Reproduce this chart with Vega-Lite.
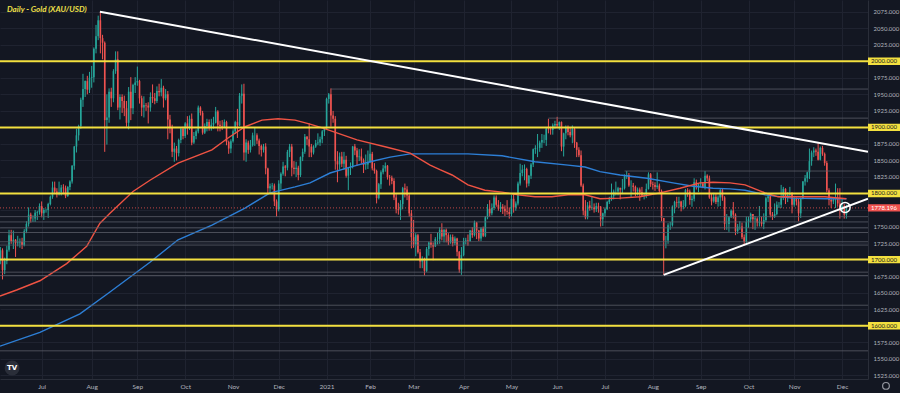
{
"$schema":"https://vega.github.io/schema/vega-lite/v6.json",
"width":868,"height":379,
"autosize":{"type":"none"},
"padding":{"left":0,"top":0,"right":32,"bottom":14},
"background":"#131722",
"title":{"text":"Daily - Gold (XAU/USD)","anchor":"start","frame":"group","orient":"top","offset":-14,"dy":8,"baseline":"bottom","dx":7,"font":"Liberation Sans Narrow, Lato","fontStyle":"italic","fontWeight":"bold","fontSize":8,"color":"#efe04a"},
"config":{"view":{"stroke":null},"axis":{"labelOverlap":false,"labelSeparation":0,"labelBound":false,"title":null},"axisY":{"labelOverlap":false,"orient":"right"}},
"datasets":{
"candles":[
{"i":3,"o":1699,"h":1719,"l":1693,"c":1714},{"i":4,"o":1714,"h":1717,"l":1670,"c":1684},{"i":5,"o":1684,"h":1703,"l":1678,"c":1698},{"i":6,"o":1698,"h":1721,"l":1693,"c":1715},{"i":7,"o":1715,"h":1745,"l":1712,"c":1737},{"i":8,"o":1737,"h":1745,"l":1724,"c":1728},{"i":9,"o":1728,"h":1744,"l":1716,"c":1730},{"i":10,"o":1730,"h":1731,"l":1704,"c":1725},{"i":11,"o":1725,"h":1736,"l":1720,"c":1726},{"i":12,"o":1726,"h":1732,"l":1718,"c":1727},{"i":13,"o":1727,"h":1733,"l":1716,"c":1722},{"i":14,"o":1722,"h":1746,"l":1720,"c":1743},{"i":15,"o":1743,"h":1758,"l":1740,"c":1754},{"i":16,"o":1754,"h":1779,"l":1750,"c":1768},{"i":17,"o":1768,"h":1771,"l":1756,"c":1762},{"i":18,"o":1762,"h":1767,"l":1757,"c":1762},{"i":19,"o":1762,"h":1775,"l":1757,"c":1771},{"i":20,"o":1771,"h":1774,"l":1760,"c":1772},{"i":21,"o":1772,"h":1785,"l":1768,"c":1781},
{"i":22,"o":1781,"h":1788,"l":1764,"c":1770},{"i":23,"o":1770,"h":1778,"l":1760,"c":1775},{"i":24,"o":1775,"h":1777,"l":1771,"c":1775},{"i":25,"o":1775,"h":1786,"l":1763,"c":1784},{"i":26,"o":1784,"h":1797,"l":1782,"c":1795},{"i":27,"o":1795,"h":1818,"l":1792,"c":1809},{"i":28,"o":1809,"h":1818,"l":1799,"c":1803},{"i":29,"o":1803,"h":1808,"l":1794,"c":1799},{"i":30,"o":1799,"h":1818,"l":1797,"c":1802},{"i":31,"o":1802,"h":1813,"l":1797,"c":1809},{"i":32,"o":1809,"h":1814,"l":1799,"c":1808},{"i":33,"o":1808,"h":1812,"l":1793,"c":1796},{"i":34,"o":1796,"h":1811,"l":1795,"c":1810},{"i":35,"o":1810,"h":1820,"l":1805,"c":1818},{"i":36,"o":1818,"h":1843,"l":1815,"c":1842},{"i":37,"o":1842,"h":1872,"l":1836,"c":1871},{"i":38,"o":1871,"h":1898,"l":1862,"c":1888},{"i":39,"o":1888,"h":1904,"l":1880,"c":1902},{"i":40,"o":1902,"h":1945,"l":1898,"c":1942},{"i":41,"o":1942,"h":1981,"l":1931,"c":1958},{"i":42,"o":1958,"h":1971,"l":1946,"c":1970},{"i":43,"o":1970,"h":1978,"l":1950,"c":1957},{"i":44,"o":1957,"h":1984,"l":1952,"c":1975},
{"i":45,"o":1975,"h":1993,"l":1960,"c":1976},{"i":46,"o":1976,"h":2021,"l":1968,"c":2019},{"i":47,"o":2019,"h":2055,"l":2012,"c":2038},{"i":48,"o":2038,"h":2069,"l":2032,"c":2062},{"i":49,"o":2062,"h":2075,"l":2012,"c":2035},{"i":50,"o":2035,"h":2040,"l":2003,"c":2028},{"i":51,"o":2028,"h":2030,"l":1863,"c":1911},{"i":52,"o":1911,"h":1950,"l":1874,"c":1915},{"i":53,"o":1915,"h":1959,"l":1907,"c":1954},{"i":54,"o":1954,"h":1960,"l":1931,"c":1944},{"i":55,"o":1944,"h":1988,"l":1938,"c":1985},{"i":56,"o":1985,"h":2015,"l":1981,"c":2003},{"i":57,"o":2003,"h":2015,"l":1926,"c":1930},{"i":58,"o":1930,"h":1950,"l":1912,"c":1946},{"i":59,"o":1946,"h":1950,"l":1922,"c":1940},{"i":60,"o":1940,"h":1948,"l":1917,"c":1929},{"i":61,"o":1929,"h":1940,"l":1901,"c":1907},{"i":62,"o":1907,"h":1961,"l":1897,"c":1954},{"i":63,"o":1954,"h":1976,"l":1911,"c":1929},{"i":64,"o":1929,"h":1966,"l":1920,"c":1964},{"i":65,"o":1964,"h":1976,"l":1952,"c":1968},
{"i":66,"o":1968,"h":1992,"l":1963,"c":1970},{"i":67,"o":1970,"h":1972,"l":1936,"c":1944},{"i":68,"o":1944,"h":1948,"l":1917,"c":1930},{"i":69,"o":1930,"h":1947,"l":1915,"c":1934},{"i":70,"o":1934,"h":1937,"l":1925,"c":1933},{"i":71,"o":1933,"h":1938,"l":1906,"c":1930},{"i":72,"o":1930,"h":1953,"l":1924,"c":1946},{"i":73,"o":1946,"h":1965,"l":1937,"c":1944},{"i":74,"o":1944,"h":1952,"l":1935,"c":1940},{"i":75,"o":1940,"h":1962,"l":1937,"c":1955},{"i":76,"o":1955,"h":1966,"l":1947,"c":1953},{"i":77,"o":1953,"h":1973,"l":1947,"c":1960},{"i":78,"o":1960,"h":1963,"l":1930,"c":1944},{"i":79,"o":1944,"h":1958,"l":1941,"c":1950},{"i":80,"o":1950,"h":1955,"l":1882,"c":1912},{"i":81,"o":1912,"h":1919,"l":1891,"c":1900},{"i":82,"o":1900,"h":1904,"l":1855,"c":1863},{"i":83,"o":1863,"h":1877,"l":1848,"c":1868},{"i":84,"o":1868,"h":1872,"l":1850,"c":1861},{"i":85,"o":1861,"h":1883,"l":1856,"c":1881},{"i":86,"o":1881,"h":1900,"l":1876,"c":1898},{"i":87,"o":1898,"h":1901,"l":1882,"c":1887},
{"i":88,"o":1887,"h":1908,"l":1884,"c":1906},{"i":89,"o":1906,"h":1917,"l":1889,"c":1900},{"i":90,"o":1900,"h":1918,"l":1896,"c":1913},{"i":91,"o":1913,"h":1921,"l":1873,"c":1877},{"i":92,"o":1877,"h":1893,"l":1875,"c":1887},{"i":93,"o":1887,"h":1897,"l":1882,"c":1894},{"i":94,"o":1894,"h":1933,"l":1891,"c":1930},{"i":95,"o":1930,"h":1932,"l":1918,"c":1922},{"i":96,"o":1922,"h":1925,"l":1889,"c":1892},{"i":97,"o":1892,"h":1906,"l":1890,"c":1902},{"i":98,"o":1902,"h":1913,"l":1894,"c":1908},{"i":99,"o":1908,"h":1912,"l":1895,"c":1899},{"i":100,"o":1899,"h":1913,"l":1895,"c":1904},{"i":101,"o":1904,"h":1916,"l":1898,"c":1907},{"i":102,"o":1907,"h":1931,"l":1906,"c":1924},{"i":103,"o":1924,"h":1926,"l":1894,"c":1904},{"i":104,"o":1904,"h":1910,"l":1894,"c":1902},{"i":105,"o":1902,"h":1911,"l":1896,"c":1901},{"i":106,"o":1901,"h":1912,"l":1899,"c":1908},{"i":107,"o":1908,"h":1910,"l":1873,"c":1878},{"i":108,"o":1878,"h":1880,"l":1860,"c":1868},{"i":109,"o":1868,"h":1882,"l":1861,"c":1879},
{"i":110,"o":1879,"h":1897,"l":1877,"c":1894},{"i":111,"o":1894,"h":1910,"l":1890,"c":1908},{"i":112,"o":1908,"h":1928,"l":1884,"c":1903},{"i":113,"o":1903,"h":1952,"l":1902,"c":1948},{"i":114,"o":1948,"h":1965,"l":1936,"c":1951},{"i":115,"o":1951,"h":1966,"l":1850,"c":1862},{"i":116,"o":1862,"h":1882,"l":1848,"c":1877},{"i":117,"o":1877,"h":1880,"l":1860,"c":1866},{"i":118,"o":1866,"h":1881,"l":1862,"c":1873},{"i":119,"o":1873,"h":1892,"l":1871,"c":1888},{"i":120,"o":1888,"h":1900,"l":1872,"c":1888},{"i":121,"o":1888,"h":1891,"l":1875,"c":1880},{"i":122,"o":1880,"h":1883,"l":1859,"c":1872},{"i":123,"o":1872,"h":1874,"l":1856,"c":1866},{"i":124,"o":1866,"h":1875,"l":1862,"c":1871},{"i":125,"o":1871,"h":1876,"l":1829,"c":1838},{"i":126,"o":1838,"h":1839,"l":1800,"c":1808},{"i":127,"o":1808,"h":1815,"l":1801,"c":1811},{"i":128,"o":1811,"h":1816,"l":1806,"c":1812},{"i":129,"o":1812,"h":1815,"l":1781,"c":1788},{"i":130,"o":1788,"h":1791,"l":1765,"c":1776},
{"i":131,"o":1776,"h":1820,"l":1773,"c":1815},{"i":132,"o":1815,"h":1832,"l":1806,"c":1830},{"i":133,"o":1830,"h":1848,"l":1827,"c":1841},{"i":134,"o":1841,"h":1843,"l":1826,"c":1839},{"i":135,"o":1839,"h":1866,"l":1835,"c":1863},{"i":136,"o":1863,"h":1875,"l":1855,"c":1871},{"i":137,"o":1871,"h":1875,"l":1826,"c":1839},{"i":138,"o":1839,"h":1849,"l":1829,"c":1837},{"i":139,"o":1837,"h":1848,"l":1825,"c":1839},{"i":140,"o":1839,"h":1842,"l":1820,"c":1828},{"i":141,"o":1828,"h":1856,"l":1825,"c":1855},{"i":142,"o":1855,"h":1868,"l":1849,"c":1863},{"i":143,"o":1863,"h":1890,"l":1860,"c":1886},{"i":144,"o":1886,"h":1887,"l":1873,"c":1882},{"i":145,"o":1882,"h":1906,"l":1855,"c":1871},{"i":146,"o":1871,"h":1875,"l":1855,"c":1862},{"i":147,"o":1862,"h":1873,"l":1859,"c":1871},{"i":148,"o":1871,"h":1881,"l":1869,"c":1876},{"i":149,"o":1876,"h":1891,"l":1873,"c":1877},{"i":150,"o":1877,"h":1886,"l":1872,"c":1882},{"i":151,"o":1882,"h":1896,"l":1876,"c":1894},{"i":152,"o":1894,"h":1900,"l":1887,"c":1898},
{"i":153,"o":1898,"h":1945,"l":1897,"c":1943},{"i":154,"o":1943,"h":1952,"l":1936,"c":1950},{"i":155,"o":1950,"h":1959,"l":1901,"c":1918},{"i":156,"o":1918,"h":1925,"l":1907,"c":1913},{"i":157,"o":1913,"h":1917,"l":1836,"c":1849},{"i":158,"o":1849,"h":1864,"l":1817,"c":1844},{"i":159,"o":1844,"h":1862,"l":1836,"c":1856},{"i":160,"o":1856,"h":1863,"l":1840,"c":1845},{"i":161,"o":1845,"h":1863,"l":1836,"c":1851},{"i":162,"o":1851,"h":1857,"l":1824,"c":1827},{"i":163,"o":1827,"h":1840,"l":1805,"c":1839},{"i":164,"o":1839,"h":1847,"l":1828,"c":1840},{"i":165,"o":1840,"h":1872,"l":1838,"c":1871},{"i":166,"o":1871,"h":1875,"l":1858,"c":1865},{"i":167,"o":1865,"h":1869,"l":1842,"c":1855},{"i":168,"o":1855,"h":1867,"l":1849,"c":1856},{"i":169,"o":1856,"h":1868,"l":1845,"c":1850},{"i":170,"o":1850,"h":1853,"l":1831,"c":1843},{"i":171,"o":1843,"h":1859,"l":1836,"c":1844},{"i":172,"o":1844,"h":1865,"l":1837,"c":1847},
{"i":173,"o":1847,"h":1875,"l":1847,"c":1860},{"i":174,"o":1860,"h":1863,"l":1835,"c":1838},{"i":175,"o":1838,"h":1846,"l":1830,"c":1834},{"i":176,"o":1834,"h":1836,"l":1785,"c":1793},{"i":177,"o":1793,"h":1816,"l":1791,"c":1814},{"i":178,"o":1814,"h":1835,"l":1807,"c":1832},{"i":179,"o":1832,"h":1843,"l":1829,"c":1838},{"i":180,"o":1838,"h":1847,"l":1833,"c":1842},{"i":181,"o":1842,"h":1843,"l":1821,"c":1825},{"i":182,"o":1825,"h":1828,"l":1812,"c":1824},{"i":183,"o":1824,"h":1827,"l":1814,"c":1819},{"i":184,"o":1819,"h":1823,"l":1790,"c":1794},{"i":185,"o":1794,"h":1799,"l":1770,"c":1776},{"i":186,"o":1776,"h":1786,"l":1768,"c":1775},{"i":187,"o":1775,"h":1790,"l":1760,"c":1784},{"i":188,"o":1784,"h":1810,"l":1776,"c":1808},{"i":189,"o":1808,"h":1815,"l":1794,"c":1806},{"i":190,"o":1806,"h":1811,"l":1790,"c":1797},{"i":191,"o":1797,"h":1799,"l":1765,"c":1770},{"i":192,"o":1770,"h":1775,"l":1717,"c":1734},
{"i":193,"o":1734,"h":1760,"l":1718,"c":1723},{"i":194,"o":1723,"h":1740,"l":1705,"c":1737},{"i":195,"o":1737,"h":1739,"l":1709,"c":1711},{"i":196,"o":1711,"h":1716,"l":1687,"c":1697},{"i":197,"o":1697,"h":1705,"l":1687,"c":1700},{"i":198,"o":1700,"h":1703,"l":1676,"c":1683},{"i":199,"o":1683,"h":1719,"l":1681,"c":1716},{"i":200,"o":1716,"h":1727,"l":1706,"c":1726},{"i":201,"o":1726,"h":1739,"l":1718,"c":1722},{"i":202,"o":1722,"h":1726,"l":1699,"c":1720},{"i":203,"o":1720,"h":1734,"l":1719,"c":1731},{"i":204,"o":1731,"h":1741,"l":1723,"c":1731},{"i":205,"o":1731,"h":1749,"l":1724,"c":1745},{"i":206,"o":1745,"h":1755,"l":1729,"c":1735},{"i":207,"o":1735,"h":1746,"l":1726,"c":1745},{"i":208,"o":1745,"h":1747,"l":1726,"c":1737},{"i":209,"o":1737,"h":1740,"l":1722,"c":1726},{"i":210,"o":1726,"h":1738,"l":1724,"c":1734},{"i":211,"o":1734,"h":1738,"l":1720,"c":1725},{"i":212,"o":1725,"h":1735,"l":1722,"c":1732},{"i":213,"o":1732,"h":1733,"l":1705,"c":1712},{"i":214,"o":1712,"h":1713,"l":1680,"c":1685},{"i":215,"o":1685,"h":1719,"l":1677,"c":1707},
{"i":216,"o":1707,"h":1733,"l":1705,"c":1728},{"i":217,"o":1728,"h":1733,"l":1723,"c":1729},{"i":218,"o":1729,"h":1738,"l":1721,"c":1728},{"i":219,"o":1728,"h":1745,"l":1727,"c":1744},{"i":220,"o":1744,"h":1749,"l":1733,"c":1737},{"i":221,"o":1737,"h":1759,"l":1735,"c":1756},{"i":222,"o":1756,"h":1757,"l":1731,"c":1744},{"i":223,"o":1744,"h":1745,"l":1728,"c":1732},{"i":224,"o":1732,"h":1749,"l":1728,"c":1747},{"i":225,"o":1747,"h":1750,"l":1734,"c":1736},{"i":226,"o":1736,"h":1766,"l":1734,"c":1764},{"i":227,"o":1764,"h":1784,"l":1761,"c":1777},{"i":228,"o":1777,"h":1790,"l":1765,"c":1770},{"i":229,"o":1770,"h":1785,"l":1767,"c":1778},{"i":230,"o":1778,"h":1797,"l":1775,"c":1794},{"i":231,"o":1794,"h":1797,"l":1780,"c":1783},{"i":232,"o":1783,"h":1790,"l":1774,"c":1777},{"i":233,"o":1777,"h":1787,"l":1772,"c":1780},{"i":234,"o":1780,"h":1784,"l":1769,"c":1777},{"i":235,"o":1777,"h":1782,"l":1766,"c":1773},{"i":236,"o":1773,"h":1790,"l":1768,"c":1772},{"i":237,"o":1772,"h":1779,"l":1762,"c":1769},
{"i":238,"o":1769,"h":1798,"l":1765,"c":1792},{"i":239,"o":1792,"h":1799,"l":1771,"c":1779},{"i":240,"o":1779,"h":1788,"l":1774,"c":1785},{"i":241,"o":1785,"h":1818,"l":1782,"c":1815},{"i":242,"o":1815,"h":1845,"l":1812,"c":1831},{"i":243,"o":1831,"h":1843,"l":1826,"c":1836},{"i":244,"o":1836,"h":1844,"l":1820,"c":1837},{"i":245,"o":1837,"h":1839,"l":1809,"c":1815},{"i":246,"o":1815,"h":1828,"l":1811,"c":1827},{"i":247,"o":1827,"h":1846,"l":1822,"c":1844},{"i":248,"o":1844,"h":1868,"l":1840,"c":1867},{"i":249,"o":1867,"h":1873,"l":1860,"c":1869},{"i":250,"o":1869,"h":1890,"l":1855,"c":1869},{"i":251,"o":1869,"h":1880,"l":1863,"c":1877},{"i":252,"o":1877,"h":1890,"l":1869,"c":1881},{"i":253,"o":1881,"h":1889,"l":1876,"c":1881},{"i":254,"o":1881,"h":1900,"l":1872,"c":1898},{"i":255,"o":1898,"h":1913,"l":1891,"c":1897},{"i":256,"o":1897,"h":1901,"l":1889,"c":1896},{"i":257,"o":1896,"h":1906,"l":1889,"c":1903},{"i":258,"o":1903,"h":1910,"l":1898,"c":1905},
{"i":259,"o":1905,"h":1916,"l":1899,"c":1903},{"i":260,"o":1903,"h":1909,"l":1896,"c":1908},{"i":261,"o":1908,"h":1909,"l":1864,"c":1871},{"i":262,"o":1871,"h":1892,"l":1856,"c":1891},{"i":263,"o":1891,"h":1903,"l":1882,"c":1899},{"i":264,"o":1899,"h":1903,"l":1888,"c":1893},{"i":265,"o":1893,"h":1900,"l":1885,"c":1888},{"i":266,"o":1888,"h":1903,"l":1876,"c":1898},{"i":267,"o":1898,"h":1900,"l":1869,"c":1877},{"i":268,"o":1877,"h":1878,"l":1855,"c":1866},{"i":269,"o":1866,"h":1870,"l":1855,"c":1858},{"i":270,"o":1858,"h":1865,"l":1810,"c":1812},{"i":271,"o":1812,"h":1815,"l":1767,"c":1774},{"i":272,"o":1774,"h":1790,"l":1761,"c":1764},{"i":273,"o":1764,"h":1787,"l":1761,"c":1782},{"i":274,"o":1782,"h":1789,"l":1774,"c":1778},{"i":275,"o":1778,"h":1795,"l":1775,"c":1779},{"i":276,"o":1779,"h":1785,"l":1771,"c":1776},{"i":277,"o":1776,"h":1786,"l":1772,"c":1781},{"i":278,"o":1781,"h":1786,"l":1771,"c":1780},{"i":279,"o":1780,"h":1781,"l":1750,"c":1761},{"i":280,"o":1761,"h":1771,"l":1751,"c":1770},
{"i":281,"o":1770,"h":1779,"l":1765,"c":1776},{"i":282,"o":1776,"h":1789,"l":1775,"c":1787},{"i":283,"o":1787,"h":1795,"l":1784,"c":1791},{"i":284,"o":1791,"h":1815,"l":1789,"c":1796},{"i":285,"o":1796,"h":1806,"l":1791,"c":1803},{"i":286,"o":1803,"h":1818,"l":1797,"c":1803},{"i":287,"o":1803,"h":1810,"l":1797,"c":1808},{"i":288,"o":1808,"h":1809,"l":1791,"c":1806},{"i":289,"o":1806,"h":1822,"l":1799,"c":1808},{"i":290,"o":1808,"h":1829,"l":1806,"c":1826},{"i":291,"o":1826,"h":1834,"l":1822,"c":1828},{"i":292,"o":1828,"h":1831,"l":1810,"c":1812},{"i":293,"o":1812,"h":1820,"l":1794,"c":1812},{"i":294,"o":1812,"h":1816,"l":1803,"c":1810},{"i":295,"o":1810,"h":1812,"l":1796,"c":1803},{"i":296,"o":1803,"h":1809,"l":1797,"c":1806},{"i":297,"o":1806,"h":1809,"l":1789,"c":1802},{"i":298,"o":1802,"h":1810,"l":1795,"c":1797},{"i":299,"o":1797,"h":1800,"l":1791,"c":1798},{"i":300,"o":1798,"h":1815,"l":1793,"c":1807},{"i":301,"o":1807,"h":1832,"l":1806,"c":1829},{"i":302,"o":1829,"h":1831,"l":1810,"c":1814},
{"i":303,"o":1814,"h":1818,"l":1806,"c":1813},{"i":304,"o":1813,"h":1817,"l":1804,"c":1810},{"i":305,"o":1810,"h":1832,"l":1807,"c":1812},{"i":306,"o":1812,"h":1815,"l":1801,"c":1804},{"i":307,"o":1804,"h":1806,"l":1758,"c":1763},{"i":308,"o":1763,"h":1763,"l":1677,"c":1729},{"i":309,"o":1729,"h":1736,"l":1717,"c":1729},{"i":310,"o":1729,"h":1755,"l":1724,"c":1752},{"i":311,"o":1752,"h":1757,"l":1745,"c":1752},{"i":312,"o":1752,"h":1782,"l":1750,"c":1780},{"i":313,"o":1780,"h":1789,"l":1770,"c":1787},{"i":314,"o":1787,"h":1795,"l":1779,"c":1786},{"i":315,"o":1786,"h":1795,"l":1778,"c":1788},{"i":316,"o":1788,"h":1789,"l":1773,"c":1780},{"i":317,"o":1780,"h":1790,"l":1776,"c":1781},{"i":318,"o":1781,"h":1807,"l":1779,"c":1805},{"i":319,"o":1805,"h":1808,"l":1795,"c":1803},{"i":320,"o":1803,"h":1806,"l":1783,"c":1790},{"i":321,"o":1790,"h":1797,"l":1780,"c":1792},{"i":322,"o":1792,"h":1823,"l":1788,"c":1817},{"i":323,"o":1817,"h":1821,"l":1806,"c":1810},{"i":324,"o":1810,"h":1815,"l":1802,"c":1814},
{"i":325,"o":1814,"h":1823,"l":1810,"c":1815},{"i":326,"o":1815,"h":1817,"l":1808,"c":1810},{"i":327,"o":1810,"h":1834,"l":1806,"c":1827},{"i":328,"o":1827,"h":1829,"l":1819,"c":1823},{"i":329,"o":1823,"h":1827,"l":1792,"c":1794},{"i":330,"o":1794,"h":1800,"l":1782,"c":1788},{"i":331,"o":1788,"h":1801,"l":1786,"c":1795},{"i":332,"o":1795,"h":1799,"l":1784,"c":1787},{"i":333,"o":1787,"h":1797,"l":1780,"c":1794},{"i":334,"o":1794,"h":1808,"l":1781,"c":1805},{"i":335,"o":1805,"h":1807,"l":1789,"c":1794},{"i":336,"o":1794,"h":1796,"l":1745,"c":1754},{"i":337,"o":1754,"h":1769,"l":1745,"c":1754},{"i":338,"o":1754,"h":1766,"l":1742,"c":1764},{"i":339,"o":1764,"h":1776,"l":1763,"c":1774},{"i":340,"o":1774,"h":1787,"l":1762,"c":1768},{"i":341,"o":1768,"h":1770,"l":1737,"c":1743},{"i":342,"o":1743,"h":1754,"l":1739,"c":1750},{"i":343,"o":1750,"h":1758,"l":1745,"c":1750},{"i":344,"o":1750,"h":1756,"l":1731,"c":1734},{"i":345,"o":1734,"h":1738,"l":1721,"c":1727},{"i":346,"o":1727,"h":1765,"l":1722,"c":1757},
{"i":347,"o":1757,"h":1765,"l":1748,"c":1761},{"i":348,"o":1761,"h":1771,"l":1756,"c":1769},{"i":349,"o":1769,"h":1769,"l":1746,"c":1761},{"i":350,"o":1761,"h":1766,"l":1745,"c":1762},{"i":351,"o":1762,"h":1764,"l":1750,"c":1756},{"i":352,"o":1756,"h":1781,"l":1750,"c":1757},{"i":353,"o":1757,"h":1765,"l":1750,"c":1754},{"i":354,"o":1754,"h":1770,"l":1746,"c":1760},{"i":355,"o":1760,"h":1795,"l":1757,"c":1793},{"i":356,"o":1793,"h":1800,"l":1787,"c":1796},{"i":357,"o":1796,"h":1797,"l":1764,"c":1768},{"i":358,"o":1768,"h":1772,"l":1760,"c":1765},{"i":359,"o":1765,"h":1785,"l":1763,"c":1769},{"i":360,"o":1769,"h":1788,"l":1767,"c":1783},{"i":361,"o":1783,"h":1787,"l":1778,"c":1783},{"i":362,"o":1783,"h":1813,"l":1778,"c":1793},{"i":363,"o":1793,"h":1810,"l":1790,"c":1807},{"i":364,"o":1807,"h":1808,"l":1784,"c":1793},{"i":365,"o":1793,"h":1802,"l":1787,"c":1798},{"i":366,"o":1798,"h":1810,"l":1795,"c":1800},{"i":367,"o":1800,"h":1802,"l":1770,"c":1783},
{"i":368,"o":1783,"h":1795,"l":1780,"c":1793},{"i":369,"o":1793,"h":1794,"l":1782,"c":1788},{"i":370,"o":1788,"h":1792,"l":1758,"c":1770},{"i":371,"o":1770,"h":1794,"l":1763,"c":1792},{"i":372,"o":1792,"h":1819,"l":1791,"c":1818},{"i":373,"o":1818,"h":1828,"l":1812,"c":1823},{"i":374,"o":1823,"h":1833,"l":1817,"c":1832},{"i":375,"o":1832,"h":1868,"l":1822,"c":1849},{"i":376,"o":1849,"h":1865,"l":1842,"c":1862},{"i":377,"o":1862,"h":1870,"l":1855,"c":1865},{"i":378,"o":1865,"h":1868,"l":1857,"c":1863},{"i":379,"o":1863,"h":1877,"l":1850,"c":1851},{"i":380,"o":1851,"h":1871,"l":1850,"c":1869},{"i":381,"o":1869,"h":1872,"l":1857,"c":1860},{"i":382,"o":1860,"h":1862,"l":1842,"c":1846},{"i":383,"o":1846,"h":1849,"l":1802,"c":1805},{"i":384,"o":1805,"h":1808,"l":1782,"c":1790},{"i":385,"o":1790,"h":1793,"l":1778,"c":1788},{"i":386,"o":1788,"h":1794,"l":1784,"c":1791},{"i":387,"o":1791,"h":1815,"l":1778,"c":1792},{"i":388,"o":1792,"h":1808,"l":1780,"c":1785},{"i":389,"o":1785,"h":1808,"l":1762,"c":1775},
{"i":390,"o":1775,"h":1793,"l":1771,"c":1781},{"i":391,"o":1781,"h":1784,"l":1762,"c":1768},{"i":392,"o":1768,"h":1783,"l":1762,"c":1778}
],
"sma100":[
{"i":2.85,"p":1645},{"i":10.5,"p":1654},{"i":21.2,"p":1668},{"i":33.5,"p":1694},{"i":42.7,"p":1720},{"i":48.8,"p":1755},{"i":53.4,"p":1770},{"i":64,"p":1803},{"i":71.8,"p":1820},{"i":84.7,"p":1846},{"i":100.3,"p":1866},{"i":107.7,"p":1884},{"i":115.5,"p":1901},{"i":123.3,"p":1911},{"i":130.7,"p":1913},{"i":138.5,"p":1911},{"i":145.4,"p":1905},{"i":151.4,"p":1899},{"i":167,"p":1881},{"i":180.8,"p":1870},{"i":191.4,"p":1861},{"i":200.6,"p":1843},{"i":205.1,"p":1836},{"i":210.7,"p":1828},{"i":218,"p":1813},{"i":225.8,"p":1805},{"i":233.7,"p":1802},{"i":241,"p":1798},{"i":248.8,"p":1795},{"i":256.6,"p":1795},{"i":264,"p":1798},{"i":271.8,"p":1798},{"i":278.7,"p":1792},{"i":287.9,"p":1793},{"i":297.1,"p":1795},{"i":306.3,"p":1801},{"i":315.5,"p":1808},{"i":324.7,"p":1816},{"i":330.7,"p":1817},{"i":338.5,"p":1816},{"i":345.4,"p":1813},{"i":354.6,"p":1801},{"i":360.6,"p":1795},{"i":373,"p":1795},{"i":382.2,"p":1795},{"i":392,"p":1792}
],
"sma200":[
{"i":2.85,"p":1569},{"i":21.2,"p":1590},{"i":39.6,"p":1618},{"i":53.4,"p":1651},{"i":71.8,"p":1696},{"i":84.7,"p":1730},{"i":100.3,"p":1752},{"i":115.5,"p":1778},{"i":127,"p":1801},{"i":138.5,"p":1810},{"i":145.4,"p":1816},{"i":154.6,"p":1831},{"i":163.8,"p":1840},{"i":173,"p":1848},{"i":182.2,"p":1855},{"i":191.4,"p":1860},{"i":205.1,"p":1860},{"i":218,"p":1860},{"i":233.7,"p":1857},{"i":248.8,"p":1848},{"i":264,"p":1843},{"i":271.8,"p":1840},{"i":278.7,"p":1833},{"i":287.9,"p":1828},{"i":300.3,"p":1823},{"i":312.3,"p":1816},{"i":321.5,"p":1811},{"i":330.7,"p":1808},{"i":338.5,"p":1807},{"i":345.4,"p":1805},{"i":354.6,"p":1798},{"i":367,"p":1793},{"i":382.2,"p":1792},{"i":392,"p":1792}
],
"grayfull":[{"p":1765},{"p":1757},{"p":1748},{"p":1741},{"p":1727},{"p":1722},{"p":1681},{"p":1676},{"p":1631},{"p":1562}],
"graypart":[{"p":1958,"a":155,"b":402},{"p":1914,"a":255,"b":402},{"p":1834,"a":290,"b":402}],
"levels":[{"p":1600},{"p":1700},{"p":1800},{"p":1900},{"p":2000}],
"price":[{"p":1778.196,"t":"1778.196"}],
"marker":[{"i":391.4,"p":1779}],
"one":[{"n":1}],
"trend":[{"g":"down","i":48.8,"p":2075},{"g":"down","i":401.93,"p":1863},{"g":"up","i":308,"p":1677},{"g":"up","i":401.93,"p":1792}]
},
"layer":[
{"data":{"name":"candles"},"mark":{"type":"rule","strokeWidth":1,"clip":true},
 "encoding":{
  "x":{"field":"i","type":"quantitative","title":null,"scale":{"domain":[2.85,401.93],"nice":false,"zero":false},
   "axis":{"orient":"bottom","title":null,"values":[22,45,66,88,110,131,153,173,193,216,238,259,281,303,325,347,368,390],"tickCount":40,
    "labelExpr":"['Jul','Aug','Sep','Oct','Nov','Dec','2021','Feb','Mar','Apr','May','Jun','Jul','Aug','Sep','Oct','Nov','Dec'][indexof([22,45,66,88,110,131,153,173,193,216,238,259,281,303,325,347,368,390], datum.value)]",
    "grid":true,"gridColor":"#1f2330","ticks":false,"labelPadding":4,"labelColor":"#b2b5be","labelFontSize":6.5,"labelFont":"Lato","domainColor":"#2a2e39","labelOverlap":false,"labelFlush":false,"zindex":0}},
  "y":{"field":"l","type":"quantitative","title":null,"scale":{"domain":[1519.4,2092.7],"nice":false,"zero":false},
   "axis":{"orient":"right","title":null,"values":[1525,1550,1575,1600,1625,1650,1675,1700,1725,1750,1775,1800,1825,1850,1875,1900,1925,1950,1975,2000,2025,2050,2075],"tickCount":40,
    "labelExpr":"indexof([1600,1700,1775,1800,1900,2000], datum.value) >= 0 ? '' : format(datum.value, '.3f')",
    "grid":true,"gridColor":"#1f2330","ticks":false,"labelPadding":5,"labelColor":"#b2b5be","labelFontSize":6,"labelFont":"Lato","domainColor":"#2a2e39","labelOverlap":false,"labelFlush":false,"labelSeparation":0,"zindex":0}},
  "y2":{"field":"h"},
  "color":{"condition":{"test":"datum.c >= datum.o","value":"#26a69a"},"value":"#ef5350"}}},
{"data":{"name":"candles"},"mark":{"type":"rule","strokeWidth":1.6,"clip":true},
 "encoding":{
  "x":{"field":"i","type":"quantitative","title":null},
  "y":{"field":"o","type":"quantitative","title":null},
  "y2":{"field":"c"},
  "color":{"condition":{"test":"datum.c >= datum.o","value":"#26a69a"},"value":"#ef5350"}}},
{"data":{"name":"sma200"},"mark":{"type":"line","color":"#2d7fd6","strokeWidth":1.4,"clip":true},
 "encoding":{"x":{"field":"i","type":"quantitative","title":null},"y":{"field":"p","type":"quantitative","title":null}}},
{"data":{"name":"sma100"},"mark":{"type":"line","color":"#ef5343","strokeWidth":1.4,"clip":true},
 "encoding":{"x":{"field":"i","type":"quantitative","title":null},"y":{"field":"p","type":"quantitative","title":null}}},
{"data":{"name":"grayfull"},"mark":{"type":"rule","color":"#5d606b","strokeWidth":1,"opacity":0.75,"clip":true},
 "encoding":{"y":{"field":"p","type":"quantitative","title":null}}},
{"data":{"name":"graypart"},"mark":{"type":"rule","color":"#5d606b","strokeWidth":1,"opacity":0.75,"clip":true},
 "encoding":{"x":{"field":"a","type":"quantitative","title":null},"x2":{"field":"b"},"y":{"field":"p","type":"quantitative","title":null}}},
{"data":{"name":"price"},"mark":{"type":"rule","color":"#ef5350","strokeWidth":1,"strokeDash":[1,2],"opacity":0.8,"clip":true},
 "encoding":{"y":{"field":"p","type":"quantitative","title":null}}},
{"data":{"name":"levels"},"mark":{"type":"rule","color":"#f3e03f","strokeWidth":2,"clip":true},
 "encoding":{"y":{"field":"p","type":"quantitative","title":null}}},
{"data":{"name":"trend"},"mark":{"type":"line","color":"#ffffff","strokeWidth":2,"clip":true},
 "encoding":{"x":{"field":"i","type":"quantitative","title":null},"y":{"field":"p","type":"quantitative","title":null},"detail":{"field":"g"}}},
{"data":{"name":"marker"},"mark":{"type":"point","filled":false,"color":"#ffffff","strokeWidth":1.5,"size":100,"opacity":1},
 "encoding":{"x":{"field":"i","type":"quantitative","title":null},"y":{"field":"p","type":"quantitative","title":null}}},
{"data":{"name":"one"},"mark":{"type":"point","shape":"circle","filled":true,"color":"#2a2e39","size":220,"opacity":1,"clip":false},
 "encoding":{"x":{"datum":8.4,"type":"quantitative","title":null},"y":{"datum":1536,"type":"quantitative","title":null}}},
{"data":{"name":"one"},"mark":{"type":"text","color":"#ffffff","fontSize":7,"fontWeight":"bold","font":"DejaVu Sans","align":"center","baseline":"middle","clip":false},
 "encoding":{"x":{"datum":8.4,"type":"quantitative","title":null},"y":{"datum":1536,"type":"quantitative","title":null},"text":{"value":"TV"}}},
{"data":{"name":"one"},"mark":{"type":"point","shape":"circle","filled":false,"color":"#9598a1","strokeWidth":1.2,"size":45,"opacity":1,"clip":false},
 "encoding":{"x":{"datum":410.2,"type":"quantitative","title":null},"y":{"datum":1509,"type":"quantitative","title":null}}},
{"data":{"name":"levels"},"mark":{"type":"point","shape":"M-1,-0.23H1V0.23H-1Z","filled":true,"color":"#f3e03f","size":1024,"opacity":1,"clip":false},
 "encoding":{"x":{"datum":409.29,"type":"quantitative","title":null},"y":{"field":"p","type":"quantitative","title":null}}},
{"data":{"name":"levels"},"mark":{"type":"text","color":"#131722","fontSize":6,"font":"Lato","align":"center","baseline":"middle","clip":false},
 "encoding":{"x":{"datum":409.29,"type":"quantitative","title":null},"y":{"field":"p","type":"quantitative","title":null},"text":{"field":"p","type":"quantitative","format":".3f"}}},
{"data":{"name":"price"},"mark":{"type":"point","shape":"M-1,-0.23H1V0.23H-1Z","filled":true,"color":"#ef5350","size":1024,"opacity":1,"clip":false},
 "encoding":{"x":{"datum":409.29,"type":"quantitative","title":null},"y":{"field":"p","type":"quantitative","title":null}}},
{"data":{"name":"price"},"mark":{"type":"text","color":"#ffffff","fontSize":6,"font":"Lato","align":"center","baseline":"middle","clip":false},
 "encoding":{"x":{"datum":409.29,"type":"quantitative","title":null},"y":{"field":"p","type":"quantitative","title":null},"text":{"field":"t","type":"nominal"}}}
]
}
